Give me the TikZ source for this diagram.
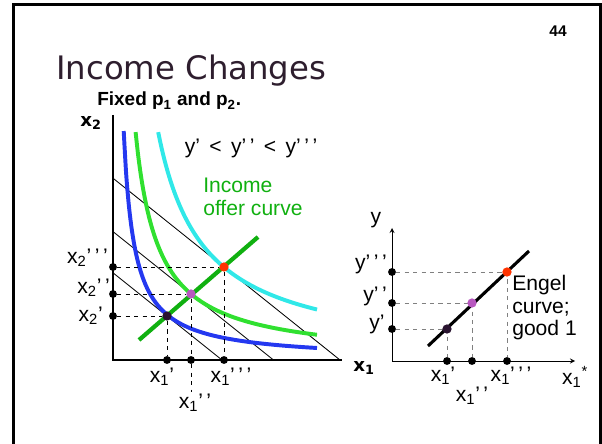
\documentclass[tikz,border=0pt]{standalone}
\usepackage{fontspec}
\setmainfont{Liberation Sans}
\newfontfamily\titlefont{DejaVu Sans}
\newfontfamily\axisfont{DejaVu Sans}
\definecolor{icblue}{HTML}{2438F0}
\definecolor{icgreen}{HTML}{30E030}
\definecolor{iccyan}{HTML}{30E8E8}
\definecolor{offergreen}{HTML}{10B010}
\definecolor{ptred}{HTML}{FF3300}
\definecolor{ptpurple}{HTML}{B858C0}
\definecolor{ptdark}{HTML}{2A1430}
\definecolor{titlecol}{HTML}{2E1E2E}
\begin{document}
\begin{tikzpicture}[
  x=0.025cm,y=-0.025cm,
  >=stealth,
  lbl/.style={inner sep=0pt,font=\fontsize{15}{16}\selectfont},
  boldlbl/.style={inner sep=0pt,font=\axisfont\bfseries\fontsize{13}{14}\selectfont},
  axis/.style={line width=2.1pt},
  budget/.style={line width=0.6pt},
  indiff/.style={line width=2.8pt},
  guide/.style={dashed,line width=0.6pt},
  grayguide/.style={dashed,line width=0.6pt,gray},
  dot/.style={circle,fill=black,inner sep=0pt,minimum size=5.6pt},
  pt/.style={circle,inner sep=0pt,minimum size=6.6pt}
]
\useasboundingbox (0,0) rectangle (602,444);
\draw[line width=2.1pt] (13.5,450) -- (13.5,4.7) -- (600.5,4.7) -- (600.5,450);
\node[anchor=base west,inner sep=0pt,text=titlecol,font=\titlefont\fontsize{23}{26}\selectfont] (title) at (56,80) {Income Changes};
\node[inner sep=0pt,font=\bfseries\fontsize{11}{12}\selectfont] (page) at (558,31) {44};
\node[anchor=base west,inner sep=0pt,font=\bfseries\fontsize{13.5}{15}\selectfont] (fixed) at (97,106) {Fixed p\textsubscript{1} and p\textsubscript{2}.};
% left graph
\coordinate (o) at (113,360);
\coordinate (ytop) at (113,115);
\coordinate (xend) at (342,360);
\coordinate (b1s) at (113,272.8);
\coordinate (b1e) at (222,360);
\coordinate (b2s) at (113,231.6);
\coordinate (b2e) at (273.5,360);
\coordinate (b3s) at (113,178.2);
\coordinate (b3e) at (340,360);
\coordinate (ocs) at (139,340);
\coordinate (oce) at (258,237);
\coordinate (xbot) at (191,392);
\draw[budget] (b1s) -- (b1e);
\draw[budget] (b2s) -- (b2e);
\draw[budget] (b3s) -- (b3e);
\begin{scope}[shift={(113,360)},yscale=-1]
\draw[indiff,icblue] plot[domain=10.7:204,samples=80,smooth] (\x,{2450/\x});
\draw[indiff,icgreen] plot[domain=22.6:204,samples=80,smooth] (\x,{5150/\x});
\draw[indiff,iccyan] plot[domain=45.2:204,samples=80,smooth] (\x,{10300/\x});
\end{scope}
\draw[line width=3pt,offergreen] (ocs) -- (oce);
\draw[axis] (ytop) -- (o) -- (xend);
\node[dot] (xa) at (167,360) {};
\node[dot] (xb) at (191,360) {};
\node[dot] (xc) at (224,360) {};
\node[dot] (ya) at (113,316) {};
\node[dot] (yb) at (113,294) {};
\node[dot] (yc) at (113,267) {};
\node[pt,fill=ptdark] (pa) at (167,316) {};
\node[pt,fill=ptpurple] (pb) at (191,294) {};
\node[pt,fill=ptred] (pc) at (224,267) {};
\draw[guide] (ya) -- (pa) -- (xa);
\draw[guide] (yb) -- (pb) -- (xb) -- (xbot);
\draw[guide] (yc) -- (pc) -- (xc);
\node[boldlbl] (x2lbl) at (91,123) {x\textsubscript{2}};
\node[boldlbl] (x1lbl) at (364,368) {x\textsubscript{1}};
\node[lbl] (ineq) at (251,148) {y’ \,<\, y’\,’ \,<\, y’\,’\,’};
\node[lbl,anchor=north west,text=offergreen,align=left] (offer) at (203,178) {Income\\offer curve};
\node[lbl,anchor=east] (x2c) at (108,258) {x\textsubscript{2}’\,’\,’};
\node[lbl,anchor=east] (x2b) at (110,288) {x\textsubscript{2}’\,’};
\node[lbl,anchor=east] (x2a) at (103,316) {x\textsubscript{2}’};
\node[lbl] (x1a) at (162,377) {x\textsubscript{1}’};
\node[lbl] (x1c) at (231,377) {x\textsubscript{1}’\,’\,’};
\node[lbl] (x1b) at (195,403) {x\textsubscript{1}’\,’};
% right graph
\coordinate (ro) at (392,361);
\coordinate (rytop) at (392,228);
\coordinate (rxend) at (575,361);
\coordinate (es) at (428,346);
\coordinate (ee) at (529,251);
\draw[->,line width=0.6pt] (ro) -- (rytop);
\draw[->,line width=0.6pt] (ro) -- (rxend);
\draw[line width=2.2pt] (es) -- (ee);
\node[dot] (rxa) at (447,361) {};
\node[dot] (rxb) at (472,361) {};
\node[dot] (rxc) at (507,361) {};
\node[dot] (rya) at (392,329) {};
\node[dot] (ryb) at (392,303) {};
\node[dot] (ryc) at (392,272) {};
\draw[grayguide] (rya) -- (447,329) -- (rxa);
\draw[grayguide] (ryb) -- (472,303) -- (rxb);
\draw[grayguide] (ryc) -- (507,272) -- (rxc);
\node[pt,fill=ptdark] (qa) at (447,329) {};
\node[pt,fill=ptpurple] (qb) at (472,303) {};
\node[pt,fill=ptred] (qc) at (507,272) {};
\node[lbl] (ylbl) at (376,220) {y};
\node[lbl] (yc3) at (371,264) {y’\,’\,’};
\node[lbl] (yc2) at (375,296) {y’\,’};
\node[lbl] (yc1) at (377,324) {y’};
\node[lbl] (rx1a) at (443,376) {x\textsubscript{1}’};
\node[lbl] (rx1c) at (511,376) {x\textsubscript{1}’\,’\,’};
\node[lbl] (rx1b) at (472,396) {x\textsubscript{1}’\,’};
\node[lbl] (rx1s) at (575,377) {x\textsubscript{1}\textsuperscript{*}};
\node[lbl,anchor=north west,align=left] (engel) at (512,275) {Engel\\curve;\\good 1};
\end{tikzpicture}
\end{document}
